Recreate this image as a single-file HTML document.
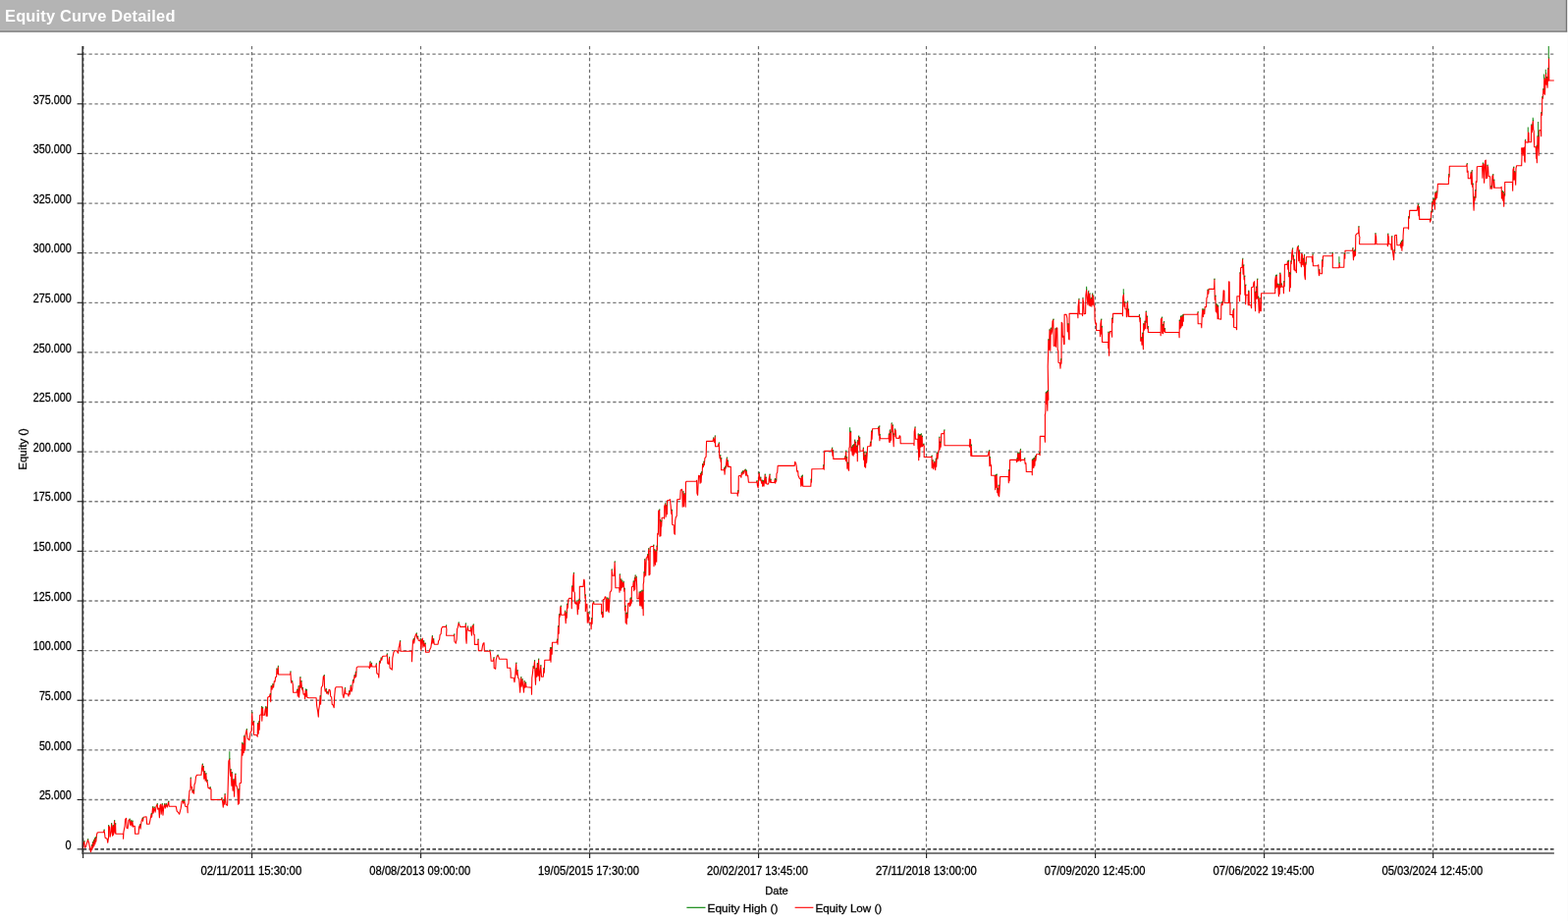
<!DOCTYPE html>
<html lang="en">
<head>
<meta charset="utf-8">
<title>Equity Curve Detailed</title>
<style>
  html, body { margin: 0; padding: 0; background: #ffffff; }
  body { width: 1597px; height: 938px; overflow: hidden; position: relative;
         font-family: "Liberation Sans", sans-serif; }
  .titlebar { position: absolute; left: 0; top: 0; width: 1596px; height: 33px; box-sizing: border-box;
              background: #b4b4b4; }
  .titlebar h1 { position: absolute; left: 5px; top: 1px; margin: 0; line-height: 31px; height: 31px;
                 font-size: 16.4px; font-weight: bold; color: #ffffff; white-space: nowrap;
                 letter-spacing: 0.2px; }
  svg.chart { position: absolute; left: 0; top: 0; }
  svg.chart text { font-family: "Liberation Sans", sans-serif; font-size: 12.2px; fill: #000000;
                   stroke: #000000; stroke-width: 0.28px; paint-order: stroke; }
</style>
</head>
<body>
<div class="titlebar"><h1>Equity Curve Detailed</h1></div>
<svg class="chart" width="1597" height="938" viewBox="0 0 1597 938">

<rect x="0" y="30.1" width="1595" height="1" fill="#bbbbbb"/>
<rect x="0" y="31.5" width="1596.2" height="1.3" fill="#6e6e6e"/>
<rect x="1594.8" y="0" width="1.4" height="32.8" fill="#747474"/>
<rect x="0" y="32.8" width="1597" height="0.4" fill="#ffffff"/>
<rect x="1596" y="33" width="1" height="905" fill="#fcfcfc"/>
<g fill="none" stroke="#7a7a7a" stroke-width="1.3" stroke-dasharray="3.3 2.63">
<line x1="84.60" y1="814.48" x2="1582.90" y2="814.48"/>
<line x1="84.60" y1="763.86" x2="1582.90" y2="763.86"/>
<line x1="84.60" y1="713.24" x2="1582.90" y2="713.24"/>
<line x1="84.60" y1="662.62" x2="1582.90" y2="662.62"/>
<line x1="84.60" y1="612.00" x2="1582.90" y2="612.00"/>
<line x1="84.60" y1="561.38" x2="1582.90" y2="561.38"/>
<line x1="84.60" y1="510.76" x2="1582.90" y2="510.76"/>
<line x1="84.60" y1="460.14" x2="1582.90" y2="460.14"/>
<line x1="84.60" y1="409.52" x2="1582.90" y2="409.52"/>
<line x1="84.60" y1="358.90" x2="1582.90" y2="358.90"/>
<line x1="84.60" y1="308.28" x2="1582.90" y2="308.28"/>
<line x1="84.60" y1="257.66" x2="1582.90" y2="257.66"/>
<line x1="84.60" y1="207.04" x2="1582.90" y2="207.04"/>
<line x1="84.60" y1="156.42" x2="1582.90" y2="156.42"/>
<line x1="84.60" y1="105.80" x2="1582.90" y2="105.80"/>
<line x1="84.60" y1="55.18" x2="1582.90" y2="55.18"/>
</g>
<g fill="none" stroke="#6c6c6c" stroke-width="1.2" stroke-dasharray="3.3 2.63">
<line x1="84.90" y1="47.00" x2="84.90" y2="868.95"/>
<line x1="256.50" y1="47.00" x2="256.50" y2="868.95"/>
<line x1="428.50" y1="47.00" x2="428.50" y2="868.95"/>
<line x1="600.50" y1="47.00" x2="600.50" y2="868.95"/>
<line x1="772.50" y1="47.00" x2="772.50" y2="868.95"/>
<line x1="943.50" y1="47.00" x2="943.50" y2="868.95"/>
<line x1="1115.50" y1="47.00" x2="1115.50" y2="868.95"/>
<line x1="1287.50" y1="47.00" x2="1287.50" y2="868.95"/>
<line x1="1459.50" y1="47.00" x2="1459.50" y2="868.95"/>
</g>
<line x1="84.60" y1="864.85" x2="1582.90" y2="864.85" stroke="#4a4a4a" stroke-width="1.8" stroke-dasharray="3.6 2.33"/>
<polyline fill="none" stroke="#ff0000" stroke-width="1.12" stroke-linejoin="round" points="84.5,864.3 85.0,858.3 85.8,857.1 86.5,863.3 87.5,862.3 89.5,855.1 90.5,858.3 92.5,867.8 93.5,861.1 93.8,865.3 94.5,858.1 94.8,863.3 95.5,856.1 95.8,861.8 96.5,854.1 96.8,859.8 97.5,853.1 97.8,857.3 98.5,850.3 99.0,848.3 100.0,847.8 105.5,847.8 106.0,845.6 106.5,848.3 107.1,853.3 109.1,854.3 109.8,858.3 110.6,852.3 110.6,841.1 111.6,842.3 112.1,852.3 113.1,847.3 113.6,839.1 114.6,851.3 115.1,841.1 115.6,850.3 116.6,836.1 117.1,848.3 117.6,839.1 117.9,849.3 125.6,849.3 125.6,854.3 125.9,847.3 127.1,841.3 127.6,834.3 128.6,833.3 129.1,843.3 130.1,843.8 131.1,835.3 132.1,834.6 132.6,840.3 133.6,836.1 134.1,841.3 134.9,836.6 135.6,842.3 136.1,841.3 137.3,841.3 137.6,849.3 141.1,849.3 141.6,842.3 142.6,840.1 143.1,844.3 144.1,836.3 145.1,833.6 145.6,836.3 146.1,832.3 149.1,831.8 149.6,839.3 152.1,839.3 153.1,834.3 154.1,829.0 154.6,832.3 155.6,822.0 156.1,828.2 157.1,822.5 158.1,827.2 159.1,821.2 160.2,819.0 160.7,824.2 161.7,823.2 162.4,832.8 163.0,820.2 163.7,819.2 164.2,829.2 165.2,819.0 166.0,830.2 166.7,822.2 167.7,819.0 168.2,823.2 169.2,819.0 170.2,822.2 171.7,816.5 172.2,821.2 179.2,821.2 180.2,826.2 181.7,827.7 182.7,829.2 184.2,823.2 185.2,816.2 186.2,815.5 186.7,818.2 187.7,815.5 188.7,821.2 190.7,821.7 191.2,827.7 191.0,820.3 192.0,818.3 193.0,805.3 194.0,804.3 194.2,792.5 194.5,802.3 195.5,801.3 196.0,807.3 196.8,805.1 197.5,808.3 198.0,799.3 198.8,797.3 199.5,791.2 200.5,789.2 205.0,789.2 205.5,783.2 206.2,778.5 206.8,785.2 207.2,781.0 207.8,793.2 208.5,786.0 209.2,795.3 209.8,788.0 210.5,796.3 211.0,795.1 212.0,802.3 213.5,803.3 214.0,802.1 215.0,804.3 215.0,814.5 225.1,814.5 225.9,813.1 226.6,816.3 227.3,822.3 227.9,815.1 228.6,819.3 229.1,809.1 230.1,819.3 231.6,820.3 232.1,805.3 232.9,775.2 233.8,773.0 234.1,782.2 234.6,790.2 235.1,784.0 235.9,800.3 236.3,787.0 237.1,805.3 237.9,794.0 238.6,811.3 239.1,795.3 239.8,788.5 240.3,800.3 241.1,800.3 241.9,804.3 242.6,819.3 243.1,804.1 243.6,818.3 244.1,797.8 245.6,797.3 245.9,775.2 246.6,757.0 247.1,769.2 247.6,758.0 248.3,766.7 248.6,750.0 249.6,764.2 250.0,748.3 251.2,743.1 252.2,752.3 254.0,753.8 255.0,746.3 256.2,744.3 256.7,726.1 257.2,738.3 258.5,735.1 258.5,748.3 261.5,748.8 262.2,750.3 262.5,737.1 263.2,747.3 263.7,735.1 264.2,743.3 264.7,728.3 266.2,727.8 266.5,720.1 266.8,734.3 267.5,721.1 268.0,728.3 269.5,728.3 270.0,723.3 270.7,720.1 271.2,729.3 271.7,721.1 272.2,729.3 272.7,710.2 274.5,709.2 275.2,707.0 275.7,714.8 276.2,699.0 277.1,702.2 277.9,697.0 278.6,700.2 279.3,693.7 280.1,694.2 280.6,689.7 281.6,689.2 281.9,681.5 282.6,686.2 283.3,679.0 283.6,687.0 295.6,687.0 295.9,684.5 296.6,695.2 297.6,694.0 298.3,697.2 298.6,705.2 302.1,705.2 302.8,702.5 303.3,709.2 304.1,699.0 304.6,710.2 305.3,702.2 305.8,690.0 306.3,700.2 306.9,694.0 307.6,702.2 308.3,701.0 309.1,707.2 310.1,706.7 310.6,711.7 311.3,702.5 311.9,709.2 312.3,703.0 312.9,710.2 314.1,710.7 322.1,710.7 322.6,718.3 323.6,724.3 324.3,730.3 324.6,723.3 325.3,719.3 326.1,709.0 326.6,717.3 327.3,700.2 328.6,698.2 329.3,689.2 330.2,688.0 330.5,699.2 331.2,704.2 332.2,702.0 332.7,706.2 333.7,705.0 334.2,707.2 335.2,702.2 336.2,703.2 336.7,709.2 337.7,710.2 338.2,717.3 339.4,718.3 340.2,720.8 340.7,709.2 341.4,701.2 342.2,699.7 348.7,699.7 349.0,707.2 350.0,710.7 350.7,706.2 351.4,701.0 352.0,706.7 354.2,706.7 355.0,709.2 355.7,704.0 356.4,707.2 357.2,698.5 358.0,704.2 358.7,702.2 359.4,693.0 360.2,695.2 361.0,688.0 361.7,690.2 362.2,685.0 362.7,689.2 363.2,680.2 364.2,679.0 375.7,679.0 376.4,680.7 377.0,674.5 377.7,679.2 378.4,676.0 378.9,679.0 382.7,679.0 383.2,676.5 383.8,685.7 385.3,686.7 385.8,690.2 386.5,674.0 387.3,675.2 388.1,670.5 388.8,672.2 389.5,668.7 390.3,668.2 393.8,668.0 394.3,666.5 394.8,675.7 395.8,676.2 396.5,670.0 397.1,680.2 398.3,681.2 399.3,682.2 399.8,670.2 401.0,664.2 402.0,662.7 404.0,662.7 405.5,665.2 406.0,660.2 406.8,657.2 407.5,653.0 408.0,663.2 419.5,663.2 419.5,673.8 420.0,662.2 420.5,653.2 421.2,651.0 421.8,655.2 422.5,649.2 423.5,646.2 424.2,645.5 424.8,650.2 425.5,648.5 426.2,652.2 427.6,652.7 428.3,651.0 428.9,662.2 429.6,651.2 430.3,650.2 430.9,659.2 431.6,653.0 432.3,658.2 433.1,655.5 433.6,664.2 437.1,664.2 437.9,661.2 438.9,659.2 439.6,654.2 440.3,648.0 440.9,655.2 441.6,651.0 442.3,656.2 446.1,656.2 446.6,652.7 447.6,651.2 448.1,646.7 449.1,645.7 449.6,640.2 450.6,638.4 454.1,638.4 454.4,637.5 454.9,641.2 454.6,647.2 462.1,647.2 462.6,646.5 462.9,653.2 464.3,655.2 465.1,651.2 465.6,640.2 466.3,639.2 467.1,634.5 467.9,636.2 468.6,638.4 474.1,638.4 474.3,635.5 474.6,650.2 475.1,655.2 475.6,643.2 476.3,638.5 477.1,642.2 479.1,642.7 479.6,639.0 480.4,647.2 481.2,637.7 482.2,636.5 482.4,646.2 483.2,646.4 483.4,656.4 486.7,656.4 487.0,651.5 487.4,662.7 490.7,662.7 491.4,658.2 492.2,655.2 493.0,654.7 493.4,663.2 497.7,663.2 499.0,662.5 499.7,667.2 500.2,673.2 502.2,673.2 503.0,670.0 503.2,680.3 504.7,681.3 505.2,672.2 506.2,668.2 507.0,667.5 508.0,669.2 508.4,671.2 516.2,671.2 516.7,680.3 519.7,680.3 520.2,685.3 520.2,690.3 523.2,690.3 524.0,694.8 524.7,689.3 525.2,681.3 525.7,675.6 526.2,687.3 527.0,683.1 527.7,690.3 528.7,691.3 529.2,699.3 529.7,705.3 530.2,696.3 530.7,690.1 531.2,699.3 532.0,692.1 532.7,698.3 533.5,705.3 534.1,694.1 534.8,700.3 535.5,695.6 536.1,699.8 541.3,700.1 541.5,707.3 541.8,690.3 542.5,685.3 543.1,679.1 543.8,680.3 544.5,673.0 545.1,690.3 545.5,697.3 546.1,681.1 546.8,689.3 547.3,676.1 548.1,688.3 548.6,671.5 549.1,685.3 549.5,693.3 550.1,684.3 550.8,678.1 551.5,689.3 553.3,689.3 553.8,681.1 554.3,685.3 554.8,672.2 560.0,672.3 560.5,660.1 561.0,674.3 561.5,660.1 562.2,666.3 562.5,654.3 567.0,654.3 567.5,651.6 568.0,656.3 568.5,638.0 569.2,645.3 569.5,626.0 570.2,628.2 570.8,618.2 571.2,617.5 571.5,626.2 575.0,626.2 575.5,622.5 576.2,634.7 576.9,624.0 577.3,629.2 577.6,615.5 578.3,619.2 578.9,610.7 579.6,609.4 582.1,609.4 582.3,619.7 582.6,597.5 583.3,602.2 583.9,587.2 584.4,583.9 584.6,602.2 585.3,603.7 585.6,614.2 586.6,615.2 587.1,612.5 587.9,616.2 588.3,625.7 588.9,612.0 589.3,620.2 589.9,611.0 590.3,614.2 590.3,597.4 594.1,597.4 594.6,590.7 594.9,590.2 595.3,592.2 595.9,609.2 596.3,606.5 596.3,622.7 597.1,616.2 597.9,615.2 598.3,634.2 599.1,624.0 599.9,634.2 601.9,634.4 602.1,640.8 602.6,630.0 603.1,635.2 603.6,615.2 604.6,613.0 604.9,615.2 612.6,615.2 612.6,625.2 613.3,624.0 613.6,628.7 614.3,628.2 614.3,610.7 615.6,610.2 616.3,607.7 617.1,608.2 617.3,622.7 618.1,620.2 618.3,609.5 619.1,622.2 619.6,610.0 620.1,623.7 620.6,616.2 621.3,603.2 622.3,602.2 622.9,600.2 623.1,580.4 623.9,586.2 625.6,586.2 626.1,572.4 626.6,586.2 626.9,598.7 630.7,598.7 631.0,603.2 631.3,585.4 631.8,595.2 632.2,601.2 632.7,590.5 633.4,598.7 633.7,592.0 634.7,597.7 635.2,593.0 635.7,602.2 636.2,600.0 636.4,621.7 637.0,617.5 637.2,634.2 637.7,625.0 638.2,635.7 638.7,624.5 639.2,629.2 639.7,614.7 640.7,614.2 641.4,617.7 642.0,610.0 642.4,616.2 642.7,609.5 643.2,614.2 643.4,597.7 644.7,597.2 645.2,592.5 645.7,601.7 646.4,589.0 646.8,600.2 647.1,586.5 647.6,591.2 648.2,588.0 648.7,598.2 649.0,609.7 650.7,609.7 651.2,603.5 651.7,616.7 652.4,603.0 653.0,617.2 653.7,602.0 654.2,619.7 654.7,602.0 655.2,626.7 655.2,595.2 655.7,592.3 656.0,583.1 656.4,587.3 656.7,570.1 657.7,586.3 658.2,568.3 659.2,567.3 659.7,565.1 660.2,570.3 660.7,559.1 661.0,585.8 662.0,584.8 662.2,557.3 663.7,556.5 665.2,556.5 665.7,555.6 666.0,576.8 666.7,560.1 667.4,575.3 668.0,561.1 668.7,572.3 669.0,556.6 669.4,560.3 669.7,543.2 670.4,544.2 670.7,520.2 671.7,519.5 672.0,546.2 672.4,530.0 673.0,545.7 673.4,531.0 673.7,536.2 674.2,527.2 676.2,527.0 676.7,528.2 676.7,515.7 677.7,513.0 678.2,526.2 678.7,515.0 679.4,523.7 679.7,509.7 681.7,509.2 682.4,508.7 683.2,515.2 683.7,523.2 684.4,520.0 684.7,534.2 686.2,534.7 686.7,543.2 687.4,544.2 687.7,530.2 688.4,526.7 689.2,525.7 689.7,508.7 692.7,508.4 693.2,499.3 694.5,498.3 695.0,500.3 695.2,516.3 695.8,501.1 696.5,515.8 697.0,503.1 697.8,507.3 698.2,516.3 698.5,491.3 699.0,490.3 709.1,490.3 709.6,489.3 709.9,502.3 710.6,504.3 711.1,492.3 711.6,484.3 712.6,484.8 713.1,492.3 713.6,482.5 714.1,491.3 714.6,481.0 715.1,483.8 715.6,473.0 716.3,475.7 716.9,470.5 717.3,473.7 717.9,466.7 719.1,465.2 719.6,449.4 726.1,449.4 726.6,446.5 727.6,450.7 728.3,444.5 728.6,454.7 731.1,454.7 731.6,452.7 732.3,451.5 732.6,462.2 733.1,466.7 733.6,464.0 734.1,470.2 734.6,467.0 734.6,478.7 737.1,478.7 737.6,477.0 738.1,483.2 738.6,475.5 739.1,477.2 739.9,469.7 740.3,466.5 740.9,475.2 741.3,469.5 741.9,475.4 744.3,475.4 744.6,502.3 750.9,502.3 751.3,505.3 751.6,500.1 752.1,502.3 752.3,484.8 754.1,484.3 754.9,486.3 755.3,481.5 756.1,483.2 756.6,480.0 757.6,482.2 758.1,479.2 759.1,478.5 759.6,484.3 760.2,479.5 761.0,484.8 761.7,484.3 762.4,491.3 770.2,491.3 771.0,490.1 771.4,494.3 772.2,496.8 772.7,486.3 773.2,481.5 774.0,489.3 774.7,486.6 775.7,492.3 776.2,489.6 776.7,495.3 777.4,490.1 778.0,495.3 778.7,488.3 779.2,483.5 779.7,492.3 780.2,486.6 780.7,492.8 782.2,493.3 783.0,491.8 783.2,487.8 784.0,483.5 784.4,491.3 785.0,488.6 785.4,491.5 788.7,491.5 789.2,488.1 789.7,492.3 790.2,488.6 790.7,490.3 791.0,482.2 791.7,481.2 792.2,474.4 809.2,474.4 809.7,470.2 810.4,471.2 811.2,474.7 811.7,480.2 812.7,479.7 813.0,484.3 814.3,487.3 815.3,487.8 815.8,495.3 816.3,485.6 816.8,494.3 817.3,484.6 817.8,495.3 825.8,495.3 826.1,488.6 826.5,491.3 826.8,477.7 838.3,477.5 838.8,474.0 839.3,478.2 839.5,460.2 839.5,459.4 847.0,459.2 847.5,456.5 848.0,464.2 848.5,459.0 848.8,467.4 860.1,467.4 860.9,465.0 861.3,469.3 861.6,459.5 862.1,469.8 862.6,466.0 862.9,477.3 863.6,471.6 864.1,478.3 864.6,479.3 864.9,456.2 865.3,455.7 865.6,440.0 866.1,443.2 866.6,440.0 866.9,459.2 867.6,455.5 868.1,463.2 868.6,454.0 869.1,464.2 869.6,453.0 870.1,462.2 870.6,448.5 871.1,460.2 871.6,450.5 872.1,461.2 872.6,454.5 873.1,455.2 873.3,469.8 873.6,449.0 874.1,453.2 874.6,444.5 875.1,452.2 875.6,446.0 875.9,459.2 878.9,459.2 879.3,456.5 879.6,468.2 880.1,461.0 880.6,475.3 881.1,464.0 881.6,476.3 882.1,461.0 882.6,471.3 883.1,464.2 883.6,454.7 886.1,454.5 886.6,450.5 887.1,454.2 887.6,439.5 888.1,447.2 888.6,436.7 894.1,436.5 894.6,435.5 895.1,443.2 895.6,434.5 895.9,448.7 896.1,443.0 896.6,446.7 905.1,446.7 905.3,442.5 905.6,450.2 906.3,438.5 906.6,450.2 907.1,440.5 907.6,448.2 908.1,431.5 908.6,439.2 909.3,433.5 909.6,444.7 910.2,454.7 910.4,442.5 911.0,444.7 911.4,437.5 912.2,438.2 912.7,446.2 915.7,446.4 916.2,443.7 917.0,444.7 917.2,451.7 930.7,451.7 931.0,453.7 931.2,439.7 932.0,435.5 932.4,447.2 934.7,447.2 935.0,457.2 935.2,442.5 935.7,468.8 936.2,443.0 936.7,465.2 937.2,443.0 937.7,455.2 938.2,442.5 938.7,454.7 939.2,444.5 939.4,454.7 940.7,452.5 941.2,454.2 941.2,465.5 948.7,465.5 949.0,464.5 949.2,476.8 950.0,469.0 950.7,477.8 951.7,470.6 952.7,478.8 953.2,467.5 953.7,475.3 954.2,461.5 955.0,467.2 955.7,459.7 956.4,458.2 956.7,445.5 957.2,457.7 957.7,450.5 958.2,455.2 958.7,441.7 961.4,441.4 961.7,438.5 962.0,453.7 987.3,453.7 987.5,455.2 987.8,447.4 988.5,447.7 988.8,464.2 989.2,453.5 989.8,464.4 1006.0,464.4 1006.9,461.2 1007.6,459.2 1007.9,474.8 1008.3,466.0 1008.9,474.3 1009.6,473.8 1009.6,484.3 1013.1,484.3 1013.6,498.8 1014.1,484.1 1014.6,496.3 1015.1,483.6 1015.6,501.8 1016.1,498.1 1016.6,504.3 1017.1,494.6 1017.6,505.8 1018.1,499.3 1018.6,485.5 1027.1,485.5 1027.3,491.8 1027.6,479.1 1028.1,489.8 1028.6,468.4 1035.1,468.4 1035.6,470.7 1035.9,467.0 1036.3,469.7 1036.6,461.5 1037.3,469.2 1037.9,461.5 1038.3,469.2 1038.9,462.2 1039.3,458.0 1039.6,469.7 1040.1,468.4 1043.1,468.4 1043.6,467.2 1044.1,472.2 1044.9,471.7 1045.3,480.5 1051.1,480.5 1051.3,483.8 1051.3,468.5 1051.9,476.8 1052.3,467.5 1052.9,476.3 1053.3,467.0 1053.9,474.3 1054.3,465.0 1054.9,469.2 1055.6,462.7 1058.1,462.5 1058.6,461.5 1059.1,463.7 1059.3,444.4 1064.0,444.4 1064.4,450.2 1064.4,422.2 1064.2,423.3 1064.8,420.3 1065.2,400.1 1065.8,411.3 1066.2,399.1 1066.8,418.3 1067.2,398.1 1067.8,407.3 1067.5,390.3 1067.2,373.2 1067.6,360.2 1067.8,346.1 1068.5,356.3 1069.0,336.1 1069.8,357.3 1070.2,334.6 1070.8,340.3 1071.5,337.3 1072.0,327.2 1072.8,325.5 1073.2,352.3 1074.5,352.3 1075.0,335.1 1075.5,353.3 1076.0,333.8 1076.8,334.3 1077.2,356.3 1077.8,357.3 1078.0,369.3 1079.5,369.8 1080.0,375.3 1080.5,366.1 1081.0,370.3 1081.2,328.2 1081.9,329.2 1082.3,343.3 1083.1,342.3 1083.6,350.8 1084.1,350.3 1084.1,320.4 1086.1,320.4 1086.9,324.2 1087.3,337.8 1087.9,330.0 1088.6,345.3 1089.1,345.8 1089.1,319.4 1097.6,319.4 1097.9,323.7 1098.1,312.2 1098.9,305.0 1099.3,319.7 1102.1,319.7 1102.6,321.7 1102.9,304.0 1103.6,308.2 1104.1,319.7 1105.6,319.4 1105.9,300.7 1106.6,295.0 1107.3,304.2 1107.9,310.2 1108.6,297.0 1109.3,311.2 1109.9,299.5 1110.6,311.7 1111.3,304.0 1111.9,312.2 1112.6,299.5 1113.1,310.2 1113.6,301.5 1114.3,311.7 1114.9,312.2 1115.1,325.2 1115.9,330.2 1116.6,329.2 1116.6,336.5 1120.1,336.5 1120.6,342.8 1120.9,330.2 1121.6,325.5 1121.9,340.3 1122.3,333.0 1122.6,348.5 1128.6,348.5 1128.9,354.8 1128.9,338.6 1129.6,362.3 1129.9,340.3 1130.6,337.5 1132.1,337.5 1132.6,343.3 1132.6,324.5 1133.3,328.7 1133.6,319.4 1143.2,319.4 1143.4,321.7 1143.7,302.7 1144.4,299.5 1145.0,312.2 1145.7,308.0 1146.0,314.7 1147.2,314.7 1147.4,322.7 1148.0,310.2 1148.4,307.5 1149.0,322.2 1149.4,315.5 1149.7,322.4 1160.2,322.4 1160.4,321.0 1161.0,327.7 1161.4,324.5 1161.7,347.3 1162.7,344.1 1163.0,351.3 1163.7,339.6 1164.4,355.8 1164.7,330.0 1165.4,336.3 1166.0,327.5 1166.7,334.8 1167.2,317.5 1168.0,328.2 1168.4,322.5 1168.7,334.8 1169.4,333.0 1169.4,338.5 1182.0,338.5 1182.2,341.8 1182.4,325.2 1183.4,323.5 1183.7,339.3 1184.4,331.0 1184.7,339.8 1185.4,328.0 1185.7,337.3 1186.4,335.1 1186.7,338.5 1200.8,338.5 1201.1,343.8 1201.3,326.5 1202.1,334.8 1202.5,322.5 1203.1,333.2 1203.8,322.0 1204.3,331.7 1204.8,321.2 1205.3,327.2 1205.3,320.3 1219.5,320.3 1220.0,318.3 1220.2,329.8 1223.5,329.8 1223.8,333.8 1224.2,322.3 1224.8,315.1 1225.5,322.8 1226.0,315.6 1226.8,319.8 1227.2,312.5 1228.5,312.8 1229.0,303.3 1229.8,302.3 1230.0,295.5 1230.8,299.3 1231.2,294.4 1236.6,294.4 1236.9,284.5 1237.3,305.3 1237.9,301.6 1238.3,317.3 1238.9,310.1 1239.3,318.8 1239.9,311.1 1240.1,324.8 1240.6,312.1 1241.1,324.8 1243.6,325.3 1243.9,310.3 1244.6,308.1 1245.1,310.8 1245.6,306.3 1246.1,295.7 1246.9,296.2 1247.1,308.5 1251.3,308.5 1251.6,286.7 1252.1,287.2 1252.3,308.5 1252.9,308.5 1252.9,320.5 1255.1,320.5 1255.6,323.3 1255.9,316.3 1256.6,315.3 1256.6,333.3 1259.1,333.8 1259.6,335.8 1259.9,301.8 1262.3,301.5 1262.6,306.8 1262.9,278.0 1263.3,299.8 1263.6,272.7 1265.1,272.2 1265.6,264.0 1266.1,279.2 1266.6,270.5 1267.1,284.7 1267.6,281.5 1267.9,300.3 1268.6,290.5 1268.6,309.8 1269.1,300.3 1271.1,300.3 1271.3,310.8 1271.6,296.5 1272.1,297.2 1272.3,310.8 1274.1,310.8 1274.6,313.8 1274.6,292.7 1276.3,292.2 1276.9,287.7 1277.6,286.7 1277.9,304.8 1278.6,316.8 1278.9,297.5 1279.3,304.3 1279.6,292.5 1280.1,304.3 1280.6,284.5 1280.9,303.8 1281.6,302.6 1282.3,318.8 1282.9,304.1 1283.3,316.8 1284.3,316.8 1284.6,298.8 1298.7,298.8 1298.7,285.7 1299.4,281.0 1299.7,293.2 1300.2,280.5 1300.7,292.2 1301.7,289.5 1302.4,301.8 1303.0,290.0 1303.4,299.3 1303.7,278.5 1304.4,280.2 1304.7,292.7 1305.4,289.5 1306.0,292.2 1307.2,292.2 1307.4,298.8 1307.7,287.0 1308.2,291.7 1308.4,269.4 1311.0,269.4 1311.4,266.5 1311.7,274.2 1312.4,266.0 1312.7,281.7 1313.4,278.0 1313.4,296.7 1314.0,279.0 1314.4,292.7 1314.7,266.5 1315.2,268.7 1315.7,258.2 1316.4,253.5 1317.0,264.2 1317.4,261.0 1318.0,274.7 1318.4,265.0 1319.0,275.7 1320.0,275.2 1320.4,277.7 1320.7,257.7 1321.4,251.7 1322.2,251.0 1322.7,265.7 1323.4,255.5 1324.0,267.7 1325.0,267.7 1325.4,271.7 1325.7,258.2 1326.4,259.2 1326.7,269.7 1327.4,264.0 1328.0,271.2 1328.4,260.0 1328.7,280.2 1329.4,284.7 1329.7,268.0 1330.2,269.2 1330.4,261.7 1336.2,261.7 1336.7,266.7 1337.0,259.5 1337.4,270.7 1342.3,270.7 1342.8,269.7 1343.1,278.2 1343.5,280.7 1343.8,275.0 1344.3,278.7 1346.5,278.7 1346.5,265.5 1347.1,271.7 1347.5,260.7 1356.8,260.7 1357.3,258.0 1357.3,272.7 1363.8,272.7 1364.0,268.1 1364.5,272.3 1368.8,272.3 1369.2,258.6 1369.8,263.3 1370.0,255.3 1377.5,255.3 1377.8,253.1 1378.5,264.8 1379.0,255.6 1379.5,261.3 1380.0,255.1 1380.5,260.3 1380.8,239.3 1382.1,237.8 1383.6,237.8 1383.9,231.0 1384.3,240.3 1384.9,241.3 1384.5,248.3 1385.1,248.8 1400.6,248.8 1400.9,238.1 1401.6,241.3 1401.9,248.8 1413.1,248.8 1413.4,250.8 1413.6,238.6 1414.3,241.3 1414.6,248.8 1416.6,248.8 1417.1,254.3 1417.6,241.1 1417.9,251.3 1418.6,257.3 1419.6,264.8 1419.9,255.1 1420.6,256.3 1420.6,239.8 1422.3,239.3 1422.9,249.8 1425.9,249.8 1426.3,248.1 1426.9,252.3 1427.3,246.1 1427.9,255.3 1428.3,245.1 1428.9,250.3 1429.1,240.3 1429.6,232.0 1434.1,232.0 1434.6,233.2 1434.6,221.0 1435.4,222.2 1435.7,214.4 1443.2,214.4 1443.7,211.2 1444.4,208.5 1445.0,219.7 1445.4,211.0 1445.7,223.4 1456.2,223.4 1456.7,226.2 1457.0,223.0 1457.4,224.2 1457.7,215.5 1458.4,216.2 1458.7,206.0 1459.4,207.2 1460.0,203.0 1460.4,208.2 1461.0,202.5 1461.4,213.2 1461.7,196.5 1462.4,203.2 1463.0,195.5 1463.4,201.7 1464.0,195.2 1464.4,187.4 1475.3,187.5 1475.6,178.0 1476.1,180.3 1476.3,169.2 1493.6,169.2 1494.1,167.0 1494.3,175.2 1495.1,174.2 1495.3,181.8 1497.6,181.8 1498.1,176.0 1498.6,187.8 1499.1,174.0 1499.6,190.3 1500.1,187.6 1500.6,205.3 1501.1,214.3 1501.6,201.1 1502.1,204.3 1502.6,194.1 1503.1,201.3 1503.3,184.8 1504.1,185.3 1504.3,169.7 1509.6,169.2 1509.9,181.3 1510.3,166.5 1511.1,167.2 1511.6,186.3 1512.1,175.2 1512.6,163.7 1513.3,163.2 1513.6,181.8 1514.6,181.3 1514.9,168.5 1515.6,170.2 1516.1,179.8 1517.7,179.8 1518.0,192.3 1518.7,190.1 1519.4,192.3 1520.0,179.3 1520.7,178.0 1521.2,191.3 1521.7,183.6 1522.2,191.3 1528.7,191.3 1529.2,190.3 1529.4,202.3 1530.2,195.1 1530.7,204.3 1531.2,196.1 1531.7,210.3 1532.2,198.1 1532.7,199.3 1532.7,185.5 1540.4,185.5 1540.7,194.3 1541.0,173.2 1541.7,170.5 1542.0,183.3 1542.7,175.0 1543.2,181.8 1543.7,188.3 1544.0,171.7 1544.7,168.7 1549.7,168.7 1550.0,159.7 1549.7,150.7 1550.7,150.7 1551.2,158.2 1551.7,150.7 1552.4,150.2 1552.7,163.7 1553.2,165.2 1553.4,143.0 1554.0,144.7 1556.2,145.2 1556.4,134.7 1557.0,135.2 1557.2,144.7 1559.4,144.7 1559.7,127.5 1560.4,134.7 1561.0,125.7 1561.4,122.9 1561.8,132.2 1562.2,133.2 1562.7,149.7 1564.2,149.7 1564.7,161.2 1565.0,149.0 1565.4,165.7 1566.0,139.0 1566.4,150.7 1566.7,138.8 1567.2,158.2 1567.7,132.7 1569.4,132.4 1569.7,138.7 1569.7,115.1 1570.5,117.3 1570.8,99.1 1571.5,100.3 1571.8,91.0 1572.5,95.3 1572.8,80.0 1573.5,96.3 1574.1,80.2 1574.5,75.0 1575.1,86.2 1575.5,79.0 1576.1,89.2 1576.8,70.0 1577.1,82.2 1577.5,59.5 1577.8,82.0 1582.8,82.0"/>
<g stroke="#008000" stroke-width="1.15" stroke-opacity="0.82" fill="none">
<line x1="86.0" y1="855.9" x2="86.0" y2="857.4"/>
<line x1="89.7" y1="853.9" x2="89.7" y2="855.4"/>
<line x1="93.7" y1="860.0" x2="93.7" y2="861.5"/>
<line x1="94.7" y1="856.9" x2="94.7" y2="858.4"/>
<line x1="95.7" y1="854.9" x2="95.7" y2="856.4"/>
<line x1="96.7" y1="852.9" x2="96.7" y2="854.4"/>
<line x1="97.7" y1="851.9" x2="97.7" y2="853.4"/>
<line x1="106.2" y1="844.4" x2="106.2" y2="845.9"/>
<line x1="110.7" y1="839.9" x2="110.7" y2="841.4"/>
<line x1="113.7" y1="837.9" x2="113.7" y2="839.4"/>
<line x1="115.2" y1="839.9" x2="115.2" y2="841.4"/>
<line x1="116.7" y1="834.9" x2="116.7" y2="836.4"/>
<line x1="117.7" y1="837.9" x2="117.7" y2="839.4"/>
<line x1="132.2" y1="833.4" x2="132.2" y2="834.9"/>
<line x1="133.8" y1="834.9" x2="133.8" y2="836.4"/>
<line x1="135.1" y1="835.4" x2="135.1" y2="836.9"/>
<line x1="142.8" y1="838.9" x2="142.8" y2="840.4"/>
<line x1="145.3" y1="832.4" x2="145.3" y2="833.9"/>
<line x1="154.3" y1="827.9" x2="154.3" y2="829.4"/>
<line x1="155.8" y1="820.9" x2="155.8" y2="822.4"/>
<line x1="157.3" y1="821.4" x2="157.3" y2="822.9"/>
<line x1="160.3" y1="817.9" x2="160.3" y2="819.4"/>
<line x1="165.3" y1="817.9" x2="165.3" y2="819.4"/>
<line x1="167.8" y1="817.9" x2="167.8" y2="819.4"/>
<line x1="169.3" y1="817.9" x2="169.3" y2="819.4"/>
<line x1="171.8" y1="815.4" x2="171.8" y2="816.9"/>
<line x1="186.3" y1="814.4" x2="186.3" y2="815.9"/>
<line x1="187.9" y1="814.4" x2="187.9" y2="815.9"/>
<line x1="194.4" y1="791.4" x2="194.4" y2="792.9"/>
<line x1="197.0" y1="803.9" x2="197.0" y2="805.4"/>
<line x1="206.4" y1="777.4" x2="206.4" y2="778.9"/>
<line x1="207.4" y1="779.9" x2="207.4" y2="781.4"/>
<line x1="208.7" y1="784.9" x2="208.7" y2="786.4"/>
<line x1="210.0" y1="786.9" x2="210.0" y2="788.4"/>
<line x1="211.2" y1="793.9" x2="211.2" y2="795.4"/>
<line x1="214.2" y1="800.9" x2="214.2" y2="802.4"/>
<line x1="226.0" y1="811.9" x2="226.0" y2="813.4"/>
<line x1="228.0" y1="813.9" x2="228.0" y2="815.4"/>
<line x1="229.2" y1="807.9" x2="229.2" y2="809.4"/>
<line x1="233.9" y1="771.9" x2="233.9" y2="773.4"/>
<line x1="235.2" y1="782.9" x2="235.2" y2="784.4"/>
<line x1="236.4" y1="785.9" x2="236.4" y2="787.4"/>
<line x1="238.0" y1="792.9" x2="238.0" y2="794.4"/>
<line x1="239.9" y1="787.4" x2="239.9" y2="788.9"/>
<line x1="243.2" y1="802.9" x2="243.2" y2="804.4"/>
<line x1="246.8" y1="755.8" x2="246.8" y2="757.3"/>
<line x1="247.8" y1="756.8" x2="247.8" y2="758.3"/>
<line x1="248.8" y1="748.8" x2="248.8" y2="750.3"/>
<line x1="251.4" y1="742.0" x2="251.4" y2="743.5"/>
<line x1="256.9" y1="724.9" x2="256.9" y2="726.4"/>
<line x1="258.7" y1="733.9" x2="258.7" y2="735.4"/>
<line x1="262.7" y1="735.9" x2="262.7" y2="737.4"/>
<line x1="263.9" y1="733.9" x2="263.9" y2="735.4"/>
<line x1="266.7" y1="718.9" x2="266.7" y2="720.4"/>
<line x1="267.7" y1="719.9" x2="267.7" y2="721.4"/>
<line x1="270.9" y1="718.9" x2="270.9" y2="720.4"/>
<line x1="271.9" y1="719.9" x2="271.9" y2="721.4"/>
<line x1="275.4" y1="705.9" x2="275.4" y2="707.4"/>
<line x1="276.4" y1="697.9" x2="276.4" y2="699.4"/>
<line x1="278.0" y1="695.9" x2="278.0" y2="697.4"/>
<line x1="282.0" y1="680.3" x2="282.0" y2="681.8"/>
<line x1="283.4" y1="677.8" x2="283.4" y2="679.3"/>
<line x1="296.0" y1="683.3" x2="296.0" y2="684.8"/>
<line x1="297.7" y1="692.9" x2="297.7" y2="694.4"/>
<line x1="302.9" y1="701.4" x2="302.9" y2="702.9"/>
<line x1="304.3" y1="697.9" x2="304.3" y2="699.4"/>
<line x1="306.0" y1="688.9" x2="306.0" y2="690.4"/>
<line x1="307.1" y1="692.9" x2="307.1" y2="694.4"/>
<line x1="308.5" y1="699.9" x2="308.5" y2="701.4"/>
<line x1="311.5" y1="701.4" x2="311.5" y2="702.9"/>
<line x1="312.5" y1="701.9" x2="312.5" y2="703.4"/>
<line x1="326.3" y1="707.9" x2="326.3" y2="709.4"/>
<line x1="330.3" y1="686.9" x2="330.3" y2="688.4"/>
<line x1="332.3" y1="700.9" x2="332.3" y2="702.4"/>
<line x1="333.8" y1="703.9" x2="333.8" y2="705.4"/>
<line x1="351.5" y1="699.9" x2="351.5" y2="701.4"/>
<line x1="355.8" y1="702.9" x2="355.8" y2="704.4"/>
<line x1="357.4" y1="697.4" x2="357.4" y2="698.9"/>
<line x1="359.6" y1="691.9" x2="359.6" y2="693.4"/>
<line x1="361.2" y1="686.9" x2="361.2" y2="688.4"/>
<line x1="362.4" y1="683.8" x2="362.4" y2="685.3"/>
<line x1="377.2" y1="673.3" x2="377.2" y2="674.8"/>
<line x1="378.6" y1="674.8" x2="378.6" y2="676.3"/>
<line x1="383.4" y1="675.3" x2="383.4" y2="676.8"/>
<line x1="386.6" y1="672.8" x2="386.6" y2="674.3"/>
<line x1="388.2" y1="669.3" x2="388.2" y2="670.8"/>
<line x1="394.4" y1="665.3" x2="394.4" y2="666.8"/>
<line x1="396.6" y1="668.8" x2="396.6" y2="670.3"/>
<line x1="407.7" y1="651.9" x2="407.7" y2="653.4"/>
<line x1="421.4" y1="649.9" x2="421.4" y2="651.4"/>
<line x1="424.4" y1="644.3" x2="424.4" y2="645.8"/>
<line x1="425.7" y1="647.4" x2="425.7" y2="648.9"/>
<line x1="428.4" y1="649.9" x2="428.4" y2="651.4"/>
<line x1="431.7" y1="651.9" x2="431.7" y2="653.4"/>
<line x1="433.2" y1="654.4" x2="433.2" y2="655.9"/>
<line x1="440.4" y1="646.9" x2="440.4" y2="648.4"/>
<line x1="441.7" y1="649.9" x2="441.7" y2="651.4"/>
<line x1="454.6" y1="636.3" x2="454.6" y2="637.8"/>
<line x1="462.8" y1="645.3" x2="462.8" y2="646.8"/>
<line x1="467.3" y1="633.3" x2="467.3" y2="634.8"/>
<line x1="474.5" y1="634.3" x2="474.5" y2="635.8"/>
<line x1="476.5" y1="637.3" x2="476.5" y2="638.8"/>
<line x1="479.8" y1="637.8" x2="479.8" y2="639.3"/>
<line x1="482.3" y1="635.3" x2="482.3" y2="636.8"/>
<line x1="487.1" y1="650.4" x2="487.1" y2="651.9"/>
<line x1="499.1" y1="661.4" x2="499.1" y2="662.9"/>
<line x1="503.1" y1="668.9" x2="503.1" y2="670.4"/>
<line x1="507.2" y1="666.4" x2="507.2" y2="667.9"/>
<line x1="525.9" y1="674.4" x2="525.9" y2="675.9"/>
<line x1="527.2" y1="681.9" x2="527.2" y2="683.4"/>
<line x1="530.9" y1="688.9" x2="530.9" y2="690.4"/>
<line x1="532.2" y1="690.9" x2="532.2" y2="692.4"/>
<line x1="534.2" y1="692.9" x2="534.2" y2="694.4"/>
<line x1="535.6" y1="694.4" x2="535.6" y2="695.9"/>
<line x1="543.2" y1="677.9" x2="543.2" y2="679.4"/>
<line x1="544.6" y1="671.9" x2="544.6" y2="673.4"/>
<line x1="546.2" y1="679.9" x2="546.2" y2="681.4"/>
<line x1="547.4" y1="674.9" x2="547.4" y2="676.4"/>
<line x1="548.7" y1="670.4" x2="548.7" y2="671.9"/>
<line x1="550.9" y1="676.9" x2="550.9" y2="678.4"/>
<line x1="553.9" y1="679.9" x2="553.9" y2="681.4"/>
<line x1="560.7" y1="658.9" x2="560.7" y2="660.4"/>
<line x1="561.7" y1="658.9" x2="561.7" y2="660.4"/>
<line x1="567.7" y1="650.4" x2="567.7" y2="651.9"/>
<line x1="568.7" y1="636.9" x2="568.7" y2="638.4"/>
<line x1="569.7" y1="624.9" x2="569.7" y2="626.4"/>
<line x1="571.4" y1="616.4" x2="571.4" y2="617.9"/>
<line x1="575.7" y1="621.4" x2="575.7" y2="622.9"/>
<line x1="577.0" y1="622.9" x2="577.0" y2="624.4"/>
<line x1="577.7" y1="614.4" x2="577.7" y2="615.9"/>
<line x1="582.7" y1="596.3" x2="582.7" y2="597.8"/>
<line x1="584.5" y1="582.8" x2="584.5" y2="584.3"/>
<line x1="587.2" y1="611.3" x2="587.2" y2="612.8"/>
<line x1="589.0" y1="610.8" x2="589.0" y2="612.3"/>
<line x1="590.0" y1="609.8" x2="590.0" y2="611.3"/>
<line x1="596.4" y1="605.3" x2="596.4" y2="606.8"/>
<line x1="599.2" y1="622.9" x2="599.2" y2="624.4"/>
<line x1="602.7" y1="628.9" x2="602.7" y2="630.4"/>
<line x1="604.8" y1="611.9" x2="604.8" y2="613.4"/>
<line x1="613.5" y1="622.9" x2="613.5" y2="624.4"/>
<line x1="618.5" y1="608.3" x2="618.5" y2="609.8"/>
<line x1="619.8" y1="608.8" x2="619.8" y2="610.3"/>
<line x1="623.3" y1="579.3" x2="623.3" y2="580.8"/>
<line x1="626.3" y1="571.3" x2="626.3" y2="572.8"/>
<line x1="631.4" y1="584.3" x2="631.4" y2="585.8"/>
<line x1="632.8" y1="589.3" x2="632.8" y2="590.8"/>
<line x1="633.8" y1="590.8" x2="633.8" y2="592.3"/>
<line x1="635.3" y1="591.8" x2="635.3" y2="593.3"/>
<line x1="636.3" y1="598.8" x2="636.3" y2="600.3"/>
<line x1="637.1" y1="616.4" x2="637.1" y2="617.9"/>
<line x1="637.8" y1="623.9" x2="637.8" y2="625.4"/>
<line x1="638.8" y1="623.4" x2="638.8" y2="624.9"/>
<line x1="642.1" y1="608.8" x2="642.1" y2="610.3"/>
<line x1="642.8" y1="608.3" x2="642.8" y2="609.8"/>
<line x1="645.3" y1="591.3" x2="645.3" y2="592.8"/>
<line x1="646.5" y1="587.8" x2="646.5" y2="589.3"/>
<line x1="647.2" y1="585.3" x2="647.2" y2="586.8"/>
<line x1="648.3" y1="586.8" x2="648.3" y2="588.3"/>
<line x1="651.3" y1="602.3" x2="651.3" y2="603.8"/>
<line x1="652.5" y1="601.8" x2="652.5" y2="603.3"/>
<line x1="653.8" y1="600.8" x2="653.8" y2="602.3"/>
<line x1="654.8" y1="600.8" x2="654.8" y2="602.3"/>
<line x1="656.1" y1="582.0" x2="656.1" y2="583.5"/>
<line x1="656.8" y1="568.9" x2="656.8" y2="570.4"/>
<line x1="659.8" y1="563.9" x2="659.8" y2="565.4"/>
<line x1="660.8" y1="557.9" x2="660.8" y2="559.4"/>
<line x1="665.8" y1="554.4" x2="665.8" y2="555.9"/>
<line x1="666.8" y1="558.9" x2="666.8" y2="560.4"/>
<line x1="668.1" y1="559.9" x2="668.1" y2="561.4"/>
<line x1="669.1" y1="555.4" x2="669.1" y2="556.9"/>
<line x1="671.8" y1="518.3" x2="671.8" y2="519.8"/>
<line x1="672.5" y1="528.9" x2="672.5" y2="530.4"/>
<line x1="673.5" y1="529.9" x2="673.5" y2="531.4"/>
<line x1="677.9" y1="511.8" x2="677.9" y2="513.3"/>
<line x1="678.9" y1="513.8" x2="678.9" y2="515.3"/>
<line x1="684.6" y1="518.8" x2="684.6" y2="520.3"/>
<line x1="696.0" y1="499.9" x2="696.0" y2="501.4"/>
<line x1="697.2" y1="501.9" x2="697.2" y2="503.4"/>
<line x1="713.7" y1="481.4" x2="713.7" y2="482.9"/>
<line x1="714.7" y1="479.9" x2="714.7" y2="481.4"/>
<line x1="715.7" y1="471.9" x2="715.7" y2="473.4"/>
<line x1="717.0" y1="469.4" x2="717.0" y2="470.9"/>
<line x1="726.7" y1="445.3" x2="726.7" y2="446.8"/>
<line x1="728.4" y1="443.3" x2="728.4" y2="444.8"/>
<line x1="732.4" y1="450.3" x2="732.4" y2="451.8"/>
<line x1="733.8" y1="462.9" x2="733.8" y2="464.4"/>
<line x1="734.8" y1="465.9" x2="734.8" y2="467.4"/>
<line x1="737.8" y1="475.9" x2="737.8" y2="477.4"/>
<line x1="738.8" y1="474.4" x2="738.8" y2="475.9"/>
<line x1="740.5" y1="465.4" x2="740.5" y2="466.9"/>
<line x1="741.5" y1="468.4" x2="741.5" y2="469.9"/>
<line x1="751.8" y1="498.9" x2="751.8" y2="500.4"/>
<line x1="755.5" y1="480.4" x2="755.5" y2="481.9"/>
<line x1="756.8" y1="478.9" x2="756.8" y2="480.4"/>
<line x1="759.3" y1="477.4" x2="759.3" y2="478.9"/>
<line x1="760.3" y1="478.4" x2="760.3" y2="479.9"/>
<line x1="771.1" y1="488.9" x2="771.1" y2="490.4"/>
<line x1="773.3" y1="480.4" x2="773.3" y2="481.9"/>
<line x1="774.8" y1="485.4" x2="774.8" y2="486.9"/>
<line x1="776.3" y1="488.4" x2="776.3" y2="489.9"/>
<line x1="777.5" y1="488.9" x2="777.5" y2="490.4"/>
<line x1="779.3" y1="482.4" x2="779.3" y2="483.9"/>
<line x1="780.3" y1="485.4" x2="780.3" y2="486.9"/>
<line x1="784.1" y1="482.4" x2="784.1" y2="483.9"/>
<line x1="785.1" y1="487.4" x2="785.1" y2="488.9"/>
<line x1="789.4" y1="486.9" x2="789.4" y2="488.4"/>
<line x1="790.4" y1="487.4" x2="790.4" y2="488.9"/>
<line x1="816.4" y1="484.4" x2="816.4" y2="485.9"/>
<line x1="817.4" y1="483.4" x2="817.4" y2="484.9"/>
<line x1="826.2" y1="487.4" x2="826.2" y2="488.9"/>
<line x1="838.9" y1="472.9" x2="838.9" y2="474.4"/>
<line x1="847.7" y1="455.4" x2="847.7" y2="456.9"/>
<line x1="848.7" y1="457.9" x2="848.7" y2="459.4"/>
<line x1="861.0" y1="463.9" x2="861.0" y2="465.4"/>
<line x1="861.7" y1="458.4" x2="861.7" y2="459.9"/>
<line x1="862.7" y1="464.9" x2="862.7" y2="466.4"/>
<line x1="863.7" y1="470.4" x2="863.7" y2="471.9"/>
<line x1="865.7" y1="438.8" x2="865.7" y2="440.3"/>
<line x1="866.7" y1="438.8" x2="866.7" y2="440.3"/>
<line x1="867.7" y1="454.4" x2="867.7" y2="455.9"/>
<line x1="868.7" y1="452.9" x2="868.7" y2="454.4"/>
<line x1="869.7" y1="451.9" x2="869.7" y2="453.4"/>
<line x1="870.7" y1="447.4" x2="870.7" y2="448.9"/>
<line x1="871.7" y1="449.4" x2="871.7" y2="450.9"/>
<line x1="872.7" y1="453.4" x2="872.7" y2="454.9"/>
<line x1="873.7" y1="447.9" x2="873.7" y2="449.4"/>
<line x1="874.7" y1="443.4" x2="874.7" y2="444.9"/>
<line x1="875.7" y1="444.9" x2="875.7" y2="446.4"/>
<line x1="879.4" y1="455.4" x2="879.4" y2="456.9"/>
<line x1="880.2" y1="459.9" x2="880.2" y2="461.4"/>
<line x1="881.2" y1="462.9" x2="881.2" y2="464.4"/>
<line x1="882.2" y1="459.9" x2="882.2" y2="461.4"/>
<line x1="886.8" y1="449.4" x2="886.8" y2="450.9"/>
<line x1="887.8" y1="438.3" x2="887.8" y2="439.8"/>
<line x1="894.8" y1="434.3" x2="894.8" y2="435.8"/>
<line x1="895.8" y1="433.3" x2="895.8" y2="434.8"/>
<line x1="896.3" y1="441.9" x2="896.3" y2="443.4"/>
<line x1="905.5" y1="441.3" x2="905.5" y2="442.8"/>
<line x1="906.5" y1="437.3" x2="906.5" y2="438.8"/>
<line x1="907.3" y1="439.3" x2="907.3" y2="440.8"/>
<line x1="908.3" y1="430.3" x2="908.3" y2="431.8"/>
<line x1="909.5" y1="432.3" x2="909.5" y2="433.8"/>
<line x1="910.5" y1="441.3" x2="910.5" y2="442.8"/>
<line x1="911.5" y1="436.3" x2="911.5" y2="437.8"/>
<line x1="932.1" y1="434.3" x2="932.1" y2="435.8"/>
<line x1="935.3" y1="441.3" x2="935.3" y2="442.8"/>
<line x1="936.3" y1="441.9" x2="936.3" y2="443.4"/>
<line x1="937.4" y1="441.9" x2="937.4" y2="443.4"/>
<line x1="938.4" y1="441.3" x2="938.4" y2="442.8"/>
<line x1="939.4" y1="443.4" x2="939.4" y2="444.9"/>
<line x1="940.9" y1="451.4" x2="940.9" y2="452.9"/>
<line x1="949.2" y1="463.4" x2="949.2" y2="464.9"/>
<line x1="950.2" y1="467.9" x2="950.2" y2="469.4"/>
<line x1="951.9" y1="469.4" x2="951.9" y2="470.9"/>
<line x1="953.4" y1="466.4" x2="953.4" y2="467.9"/>
<line x1="954.4" y1="460.4" x2="954.4" y2="461.9"/>
<line x1="956.9" y1="444.4" x2="956.9" y2="445.9"/>
<line x1="957.9" y1="449.4" x2="957.9" y2="450.9"/>
<line x1="961.9" y1="437.3" x2="961.9" y2="438.8"/>
<line x1="989.4" y1="452.4" x2="989.4" y2="453.9"/>
<line x1="1007.7" y1="458.1" x2="1007.7" y2="459.6"/>
<line x1="1008.4" y1="464.9" x2="1008.4" y2="466.4"/>
<line x1="1014.2" y1="482.9" x2="1014.2" y2="484.4"/>
<line x1="1015.2" y1="482.4" x2="1015.2" y2="483.9"/>
<line x1="1016.2" y1="496.9" x2="1016.2" y2="498.4"/>
<line x1="1017.2" y1="493.4" x2="1017.2" y2="494.9"/>
<line x1="1027.7" y1="477.9" x2="1027.7" y2="479.4"/>
<line x1="1036.1" y1="465.9" x2="1036.1" y2="467.4"/>
<line x1="1036.8" y1="460.4" x2="1036.8" y2="461.9"/>
<line x1="1038.1" y1="460.4" x2="1038.1" y2="461.9"/>
<line x1="1039.5" y1="456.9" x2="1039.5" y2="458.4"/>
<line x1="1043.8" y1="466.1" x2="1043.8" y2="467.6"/>
<line x1="1051.5" y1="467.4" x2="1051.5" y2="468.9"/>
<line x1="1052.5" y1="466.4" x2="1052.5" y2="467.9"/>
<line x1="1053.5" y1="465.9" x2="1053.5" y2="467.4"/>
<line x1="1054.5" y1="463.9" x2="1054.5" y2="465.4"/>
<line x1="1058.8" y1="460.4" x2="1058.8" y2="461.9"/>
<line x1="1065.4" y1="398.9" x2="1065.4" y2="400.4"/>
<line x1="1066.4" y1="397.9" x2="1066.4" y2="399.4"/>
<line x1="1067.4" y1="396.9" x2="1067.4" y2="398.4"/>
<line x1="1068.0" y1="344.9" x2="1068.0" y2="346.4"/>
<line x1="1069.2" y1="334.9" x2="1069.2" y2="336.4"/>
<line x1="1070.4" y1="333.4" x2="1070.4" y2="334.9"/>
<line x1="1073.0" y1="324.4" x2="1073.0" y2="325.9"/>
<line x1="1075.2" y1="333.9" x2="1075.2" y2="335.4"/>
<line x1="1080.7" y1="365.0" x2="1080.7" y2="366.5"/>
<line x1="1088.0" y1="328.9" x2="1088.0" y2="330.4"/>
<line x1="1099.0" y1="303.8" x2="1099.0" y2="305.3"/>
<line x1="1103.0" y1="302.8" x2="1103.0" y2="304.3"/>
<line x1="1106.7" y1="293.8" x2="1106.7" y2="295.3"/>
<line x1="1108.8" y1="295.8" x2="1108.8" y2="297.3"/>
<line x1="1110.1" y1="298.3" x2="1110.1" y2="299.8"/>
<line x1="1111.5" y1="302.8" x2="1111.5" y2="304.3"/>
<line x1="1112.8" y1="298.3" x2="1112.8" y2="299.8"/>
<line x1="1113.8" y1="300.3" x2="1113.8" y2="301.8"/>
<line x1="1121.8" y1="324.4" x2="1121.8" y2="325.9"/>
<line x1="1122.5" y1="331.9" x2="1122.5" y2="333.4"/>
<line x1="1129.1" y1="337.4" x2="1129.1" y2="338.9"/>
<line x1="1132.8" y1="323.4" x2="1132.8" y2="324.9"/>
<line x1="1144.5" y1="298.3" x2="1144.5" y2="299.8"/>
<line x1="1145.8" y1="306.9" x2="1145.8" y2="308.4"/>
<line x1="1148.5" y1="306.3" x2="1148.5" y2="307.8"/>
<line x1="1149.5" y1="314.4" x2="1149.5" y2="315.9"/>
<line x1="1160.5" y1="319.9" x2="1160.5" y2="321.4"/>
<line x1="1161.5" y1="323.4" x2="1161.5" y2="324.9"/>
<line x1="1162.9" y1="342.9" x2="1162.9" y2="344.4"/>
<line x1="1163.9" y1="338.4" x2="1163.9" y2="339.9"/>
<line x1="1164.9" y1="328.9" x2="1164.9" y2="330.4"/>
<line x1="1166.2" y1="326.4" x2="1166.2" y2="327.9"/>
<line x1="1167.4" y1="316.4" x2="1167.4" y2="317.9"/>
<line x1="1168.6" y1="321.4" x2="1168.6" y2="322.9"/>
<line x1="1169.6" y1="331.9" x2="1169.6" y2="333.4"/>
<line x1="1183.6" y1="322.4" x2="1183.6" y2="323.9"/>
<line x1="1184.6" y1="329.9" x2="1184.6" y2="331.4"/>
<line x1="1185.6" y1="326.9" x2="1185.6" y2="328.4"/>
<line x1="1186.6" y1="333.9" x2="1186.6" y2="335.4"/>
<line x1="1201.4" y1="325.4" x2="1201.4" y2="326.9"/>
<line x1="1202.6" y1="321.4" x2="1202.6" y2="322.9"/>
<line x1="1203.9" y1="320.9" x2="1203.9" y2="322.4"/>
<line x1="1204.9" y1="320.1" x2="1204.9" y2="321.6"/>
<line x1="1220.2" y1="317.1" x2="1220.2" y2="318.6"/>
<line x1="1225.0" y1="313.9" x2="1225.0" y2="315.4"/>
<line x1="1226.2" y1="314.4" x2="1226.2" y2="315.9"/>
<line x1="1230.2" y1="294.4" x2="1230.2" y2="295.9"/>
<line x1="1237.0" y1="283.4" x2="1237.0" y2="284.9"/>
<line x1="1238.0" y1="300.4" x2="1238.0" y2="301.9"/>
<line x1="1239.0" y1="308.9" x2="1239.0" y2="310.4"/>
<line x1="1240.0" y1="309.9" x2="1240.0" y2="311.4"/>
<line x1="1240.7" y1="310.9" x2="1240.7" y2="312.4"/>
<line x1="1244.7" y1="306.9" x2="1244.7" y2="308.4"/>
<line x1="1256.7" y1="314.1" x2="1256.7" y2="315.6"/>
<line x1="1263.1" y1="276.9" x2="1263.1" y2="278.4"/>
<line x1="1265.8" y1="262.8" x2="1265.8" y2="264.3"/>
<line x1="1266.8" y1="269.3" x2="1266.8" y2="270.8"/>
<line x1="1267.8" y1="280.4" x2="1267.8" y2="281.9"/>
<line x1="1268.8" y1="289.4" x2="1268.8" y2="290.9"/>
<line x1="1271.8" y1="295.4" x2="1271.8" y2="296.9"/>
<line x1="1279.1" y1="296.4" x2="1279.1" y2="297.9"/>
<line x1="1279.8" y1="291.4" x2="1279.8" y2="292.9"/>
<line x1="1280.8" y1="283.4" x2="1280.8" y2="284.9"/>
<line x1="1281.8" y1="301.4" x2="1281.8" y2="302.9"/>
<line x1="1283.1" y1="302.9" x2="1283.1" y2="304.4"/>
<line x1="1299.5" y1="279.9" x2="1299.5" y2="281.4"/>
<line x1="1300.3" y1="279.4" x2="1300.3" y2="280.9"/>
<line x1="1301.8" y1="288.4" x2="1301.8" y2="289.9"/>
<line x1="1303.1" y1="288.9" x2="1303.1" y2="290.4"/>
<line x1="1303.8" y1="277.4" x2="1303.8" y2="278.9"/>
<line x1="1305.5" y1="288.4" x2="1305.5" y2="289.9"/>
<line x1="1307.8" y1="285.9" x2="1307.8" y2="287.4"/>
<line x1="1311.5" y1="265.3" x2="1311.5" y2="266.8"/>
<line x1="1312.6" y1="264.8" x2="1312.6" y2="266.3"/>
<line x1="1313.6" y1="276.9" x2="1313.6" y2="278.4"/>
<line x1="1314.2" y1="277.9" x2="1314.2" y2="279.4"/>
<line x1="1314.9" y1="265.3" x2="1314.9" y2="266.8"/>
<line x1="1316.6" y1="252.3" x2="1316.6" y2="253.8"/>
<line x1="1317.6" y1="259.8" x2="1317.6" y2="261.3"/>
<line x1="1318.6" y1="263.8" x2="1318.6" y2="265.3"/>
<line x1="1322.4" y1="249.8" x2="1322.4" y2="251.3"/>
<line x1="1323.6" y1="254.3" x2="1323.6" y2="255.8"/>
<line x1="1327.6" y1="262.8" x2="1327.6" y2="264.3"/>
<line x1="1328.6" y1="258.8" x2="1328.6" y2="260.3"/>
<line x1="1329.9" y1="266.8" x2="1329.9" y2="268.3"/>
<line x1="1337.2" y1="258.3" x2="1337.2" y2="259.8"/>
<line x1="1343.9" y1="273.9" x2="1343.9" y2="275.4"/>
<line x1="1346.6" y1="264.3" x2="1346.6" y2="265.8"/>
<line x1="1357.4" y1="256.8" x2="1357.4" y2="258.3"/>
<line x1="1364.2" y1="267.0" x2="1364.2" y2="268.5"/>
<line x1="1369.4" y1="257.4" x2="1369.4" y2="258.9"/>
<line x1="1378.0" y1="251.9" x2="1378.0" y2="253.4"/>
<line x1="1379.2" y1="254.4" x2="1379.2" y2="255.9"/>
<line x1="1380.2" y1="253.9" x2="1380.2" y2="255.4"/>
<line x1="1384.0" y1="229.9" x2="1384.0" y2="231.4"/>
<line x1="1401.0" y1="236.9" x2="1401.0" y2="238.4"/>
<line x1="1413.8" y1="237.4" x2="1413.8" y2="238.9"/>
<line x1="1417.8" y1="239.9" x2="1417.8" y2="241.4"/>
<line x1="1420.1" y1="253.9" x2="1420.1" y2="255.4"/>
<line x1="1426.5" y1="246.9" x2="1426.5" y2="248.4"/>
<line x1="1427.5" y1="244.9" x2="1427.5" y2="246.4"/>
<line x1="1428.5" y1="243.9" x2="1428.5" y2="245.4"/>
<line x1="1434.8" y1="219.9" x2="1434.8" y2="221.4"/>
<line x1="1444.5" y1="207.4" x2="1444.5" y2="208.9"/>
<line x1="1445.5" y1="209.9" x2="1445.5" y2="211.4"/>
<line x1="1457.1" y1="221.9" x2="1457.1" y2="223.4"/>
<line x1="1457.8" y1="214.4" x2="1457.8" y2="215.9"/>
<line x1="1458.8" y1="204.8" x2="1458.8" y2="206.3"/>
<line x1="1460.1" y1="201.8" x2="1460.1" y2="203.3"/>
<line x1="1461.1" y1="201.3" x2="1461.1" y2="202.8"/>
<line x1="1461.9" y1="195.3" x2="1461.9" y2="196.8"/>
<line x1="1463.2" y1="194.3" x2="1463.2" y2="195.8"/>
<line x1="1475.7" y1="176.9" x2="1475.7" y2="178.4"/>
<line x1="1494.3" y1="165.9" x2="1494.3" y2="167.4"/>
<line x1="1498.3" y1="174.9" x2="1498.3" y2="176.4"/>
<line x1="1499.3" y1="172.9" x2="1499.3" y2="174.4"/>
<line x1="1500.3" y1="186.4" x2="1500.3" y2="187.9"/>
<line x1="1501.8" y1="199.9" x2="1501.8" y2="201.4"/>
<line x1="1502.8" y1="192.9" x2="1502.8" y2="194.4"/>
<line x1="1510.5" y1="165.4" x2="1510.5" y2="166.9"/>
<line x1="1515.1" y1="167.4" x2="1515.1" y2="168.9"/>
<line x1="1518.8" y1="188.9" x2="1518.8" y2="190.4"/>
<line x1="1520.8" y1="176.9" x2="1520.8" y2="178.4"/>
<line x1="1521.8" y1="182.4" x2="1521.8" y2="183.9"/>
<line x1="1530.3" y1="193.9" x2="1530.3" y2="195.4"/>
<line x1="1531.3" y1="194.9" x2="1531.3" y2="196.4"/>
<line x1="1532.3" y1="196.9" x2="1532.3" y2="198.4"/>
<line x1="1541.8" y1="169.4" x2="1541.8" y2="170.9"/>
<line x1="1542.8" y1="173.9" x2="1542.8" y2="175.4"/>
<line x1="1553.6" y1="141.8" x2="1553.6" y2="143.3"/>
<line x1="1559.9" y1="126.3" x2="1559.9" y2="127.8"/>
<line x1="1561.6" y1="121.8" x2="1561.6" y2="123.3"/>
<line x1="1565.2" y1="147.8" x2="1565.2" y2="149.3"/>
<line x1="1566.2" y1="137.8" x2="1566.2" y2="139.3"/>
<line x1="1566.9" y1="137.6" x2="1566.9" y2="139.1"/>
<line x1="1569.9" y1="113.9" x2="1569.9" y2="115.4"/>
<line x1="1570.9" y1="97.9" x2="1570.9" y2="99.4"/>
<line x1="1571.9" y1="89.9" x2="1571.9" y2="91.4"/>
<line x1="1572.9" y1="78.9" x2="1572.9" y2="80.4"/>
<line x1="1574.6" y1="73.9" x2="1574.6" y2="75.4"/>
<line x1="1575.6" y1="77.9" x2="1575.6" y2="79.4"/>
<line x1="1576.9" y1="68.9" x2="1576.9" y2="70.4"/>
<line x1="1577.6" y1="58.3" x2="1577.6" y2="59.8"/>
<line x1="1577.3" y1="47.0" x2="1577.3" y2="59.0"/>
<line x1="1566.6" y1="124.0" x2="1566.6" y2="137.8"/>
<line x1="1561.3" y1="119.8" x2="1561.3" y2="123.0"/>
<line x1="1556.3" y1="129.5" x2="1556.3" y2="134.5"/>
<line x1="1572.5" y1="75.5" x2="1572.5" y2="79.5"/>
<line x1="1574.3" y1="70.8" x2="1574.3" y2="74.5"/>
<line x1="233.8" y1="765.3" x2="233.8" y2="772.5"/>
<line x1="1363.9" y1="261.3" x2="1363.9" y2="267.5"/>
<line x1="1144.3" y1="294.3" x2="1144.3" y2="299.0"/>
<line x1="1106.6" y1="291.8" x2="1106.6" y2="294.5"/>
<line x1="865.6" y1="435.3" x2="865.6" y2="439.5"/>
</g>
<g fill="none" stroke="#0a0a0a" stroke-width="1.25">
<line x1="84.10" y1="47.00" x2="84.10" y2="869.85"/>
</g>
<line x1="83.60" y1="868.95" x2="1582.90" y2="868.95" stroke="#505050" stroke-width="1.65"/>
<g fill="none" stroke="#222222" stroke-width="1.15">
<line x1="78.60" y1="864.85" x2="84.60" y2="864.85"/>
<line x1="78.60" y1="814.48" x2="84.60" y2="814.48"/>
<line x1="78.60" y1="763.86" x2="84.60" y2="763.86"/>
<line x1="78.60" y1="713.24" x2="84.60" y2="713.24"/>
<line x1="78.60" y1="662.62" x2="84.60" y2="662.62"/>
<line x1="78.60" y1="612.00" x2="84.60" y2="612.00"/>
<line x1="78.60" y1="561.38" x2="84.60" y2="561.38"/>
<line x1="78.60" y1="510.76" x2="84.60" y2="510.76"/>
<line x1="78.60" y1="460.14" x2="84.60" y2="460.14"/>
<line x1="78.60" y1="409.52" x2="84.60" y2="409.52"/>
<line x1="78.60" y1="358.90" x2="84.60" y2="358.90"/>
<line x1="78.60" y1="308.28" x2="84.60" y2="308.28"/>
<line x1="78.60" y1="257.66" x2="84.60" y2="257.66"/>
<line x1="78.60" y1="207.04" x2="84.60" y2="207.04"/>
<line x1="78.60" y1="156.42" x2="84.60" y2="156.42"/>
<line x1="78.60" y1="105.80" x2="84.60" y2="105.80"/>
<line x1="78.60" y1="55.18" x2="84.60" y2="55.18"/>
<line x1="84.60" y1="868.95" x2="84.60" y2="873.90"/>
<line x1="256.60" y1="868.95" x2="256.60" y2="873.90"/>
<line x1="428.60" y1="868.95" x2="428.60" y2="873.90"/>
<line x1="600.60" y1="868.95" x2="600.60" y2="873.90"/>
<line x1="772.60" y1="868.95" x2="772.60" y2="873.90"/>
<line x1="943.60" y1="868.95" x2="943.60" y2="873.90"/>
<line x1="1115.60" y1="868.95" x2="1115.60" y2="873.90"/>
<line x1="1287.60" y1="868.95" x2="1287.60" y2="873.90"/>
<line x1="1459.60" y1="868.95" x2="1459.60" y2="873.90"/>
</g>
<text x="66.6" y="864.8" textLength="6.1" lengthAdjust="spacingAndGlyphs">0</text>
<text x="39.9" y="814.1" textLength="32.8" lengthAdjust="spacingAndGlyphs">25.000</text>
<text x="39.9" y="763.5" textLength="32.8" lengthAdjust="spacingAndGlyphs">50.000</text>
<text x="39.9" y="712.9" textLength="32.8" lengthAdjust="spacingAndGlyphs">75.000</text>
<text x="33.8" y="662.3" textLength="38.9" lengthAdjust="spacingAndGlyphs">100.000</text>
<text x="33.8" y="611.6" textLength="38.9" lengthAdjust="spacingAndGlyphs">125.000</text>
<text x="33.8" y="561.0" textLength="38.9" lengthAdjust="spacingAndGlyphs">150.000</text>
<text x="33.8" y="510.4" textLength="38.9" lengthAdjust="spacingAndGlyphs">175.000</text>
<text x="33.8" y="459.8" textLength="38.9" lengthAdjust="spacingAndGlyphs">200.000</text>
<text x="33.8" y="409.2" textLength="38.9" lengthAdjust="spacingAndGlyphs">225.000</text>
<text x="33.8" y="358.6" textLength="38.9" lengthAdjust="spacingAndGlyphs">250.000</text>
<text x="33.8" y="307.9" textLength="38.9" lengthAdjust="spacingAndGlyphs">275.000</text>
<text x="33.8" y="257.3" textLength="38.9" lengthAdjust="spacingAndGlyphs">300.000</text>
<text x="33.8" y="206.7" textLength="38.9" lengthAdjust="spacingAndGlyphs">325.000</text>
<text x="33.8" y="156.1" textLength="38.9" lengthAdjust="spacingAndGlyphs">350.000</text>
<text x="33.8" y="105.5" textLength="38.9" lengthAdjust="spacingAndGlyphs">375.000</text>
<text x="204.4" y="891.2" textLength="102.9" lengthAdjust="spacingAndGlyphs">02/11/2011 15:30:00</text>
<text x="376.3" y="891.2" textLength="102.9" lengthAdjust="spacingAndGlyphs">08/08/2013 09:00:00</text>
<text x="548.1" y="891.2" textLength="102.9" lengthAdjust="spacingAndGlyphs">19/05/2015 17:30:00</text>
<text x="720.0" y="891.2" textLength="102.9" lengthAdjust="spacingAndGlyphs">20/02/2017 13:45:00</text>
<text x="891.9" y="891.2" textLength="102.9" lengthAdjust="spacingAndGlyphs">27/11/2018 13:00:00</text>
<text x="1063.7" y="891.2" textLength="102.9" lengthAdjust="spacingAndGlyphs">07/09/2020 12:45:00</text>
<text x="1235.6" y="891.2" textLength="102.9" lengthAdjust="spacingAndGlyphs">07/06/2022 19:45:00</text>
<text x="1407.4" y="891.2" textLength="102.9" lengthAdjust="spacingAndGlyphs">05/03/2024 12:45:00</text>
<text x="779.2" y="911.3" textLength="23.6" lengthAdjust="spacingAndGlyphs" style="font-size:11.7px">Date</text>
<g transform="translate(26.9 457.4) rotate(-90)"><text x="-21.3" y="0.0" textLength="42.6" lengthAdjust="spacingAndGlyphs" style="font-size:11.7px">Equity ()</text></g>
<line x1="699.4" y1="924.3" x2="718.5" y2="924.3" stroke="#008000" stroke-width="1.1"/>
<text x="720.5" y="928.8" textLength="71.9" lengthAdjust="spacingAndGlyphs" style="font-size:11.7px">Equity High ()</text>
<line x1="809.6" y1="924.3" x2="828.4" y2="924.3" stroke="#ff0000" stroke-width="1.1"/>
<text x="830.4" y="928.8" textLength="67.8" lengthAdjust="spacingAndGlyphs" style="font-size:11.7px">Equity Low ()</text>
</svg>
</body>
</html>
